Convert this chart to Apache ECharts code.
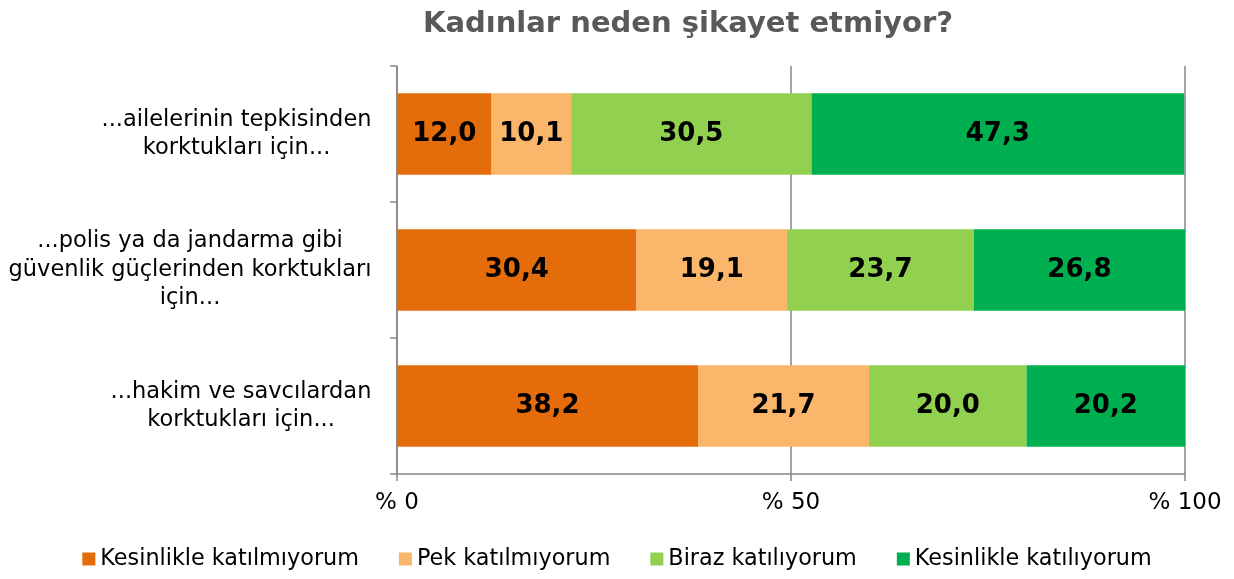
<!DOCTYPE html>
<html>
<head>
<meta charset="utf-8">
<script src="https://cdn.jsdelivr.net/npm/echarts@6/dist/echarts.min.js"></script>
<style>html,body{margin:0;padding:0;background:#fff;}#c{width:1234px;height:579px;}</style>
</head>
<body>
<div id="c"></div>
<script>
const titleText = 'Kadınlar neden şikayet etmiyor?';
const categories = [
  '...ailelerinin tepkisinden\nkorktukları için...',
  '...polis ya da jandarma gibi\ngüvenlik güçlerinden korktukları\niçin...',
  '...hakim ve savcılardan\nkorktukları için...'
];
const seriesNames = ['Kesinlikle katılmıyorum', 'Pek katılmıyorum', 'Biraz katılıyorum', 'Kesinlikle katılıyorum'];
const kesinlikleKatilmiyorum = [12.0, 30.4, 38.2];
const pekKatilmiyorum = [10.1, 19.1, 21.7];
const birazKatiliyorum = [30.5, 23.7, 20.0];
const kesinlikleKatiliyorum = [47.3, 26.8, 20.2];
const xTicks = [0, 50, 100];
const colors = ['#E46C0A', '#FAB66B', '#92D050', '#00B050'];

const values = [kesinlikleKatilmiyorum, pekKatilmiyorum, birazKatiliyorum, kesinlikleKatiliyorum];
const catFont = 'DejaVu Sans';
const catSize = 22.5;
const ctx = document.createElement('canvas').getContext('2d');
ctx.font = catSize + 'px "' + catFont + '"';
const rich = {};
categories.forEach((c, i) => {
  const w = Math.max(...c.split('\n').map(l => ctx.measureText(l).width));
  rich['c' + i] = {width: Math.ceil(w) + 1, align: 'center', fontFamily: catFont, fontSize: catSize, color: '#000', lineHeight: 28.5};
});

const chart = echarts.init(document.getElementById('c'));
chart.setOption({
  animation: false,
  title: {
    text: titleText, left: 683, textAlign: 'center', top: 5,
    textStyle: {fontFamily: 'DejaVu Sans', fontWeight: 'bold', fontSize: 29, color: '#595959'}
  },
  legend: {
    bottom: 4, left: 'center', itemWidth: 13, itemHeight: 13, itemGap: 40,
    icon: 'rect',
    textStyle: {fontFamily: 'DejaVu Sans', fontSize: 22.3, color: '#000'},
    data: seriesNames
  },
  grid: {left: 397, right: 49, top: 66, bottom: 105, containLabel: false, outerBoundsMode: 'none'},
  xAxis: {
    type: 'value', min: 0, max: 100, interval: 50,
    axisLine: {show: true, lineStyle: {color: '#868686', width: 1.5}},
    axisTick: {show: true, length: 7, lineStyle: {color: '#868686', width: 1.5}},
    splitLine: {show: true, lineStyle: {color: '#868686', width: 1.5}},
    axisLabel: {
      margin: 18, fontFamily: 'DejaVu Sans', fontSize: 23, color: '#000',
      formatter: v => xTicks.includes(v) ? '% ' + v : ''
    }
  },
  yAxis: {
    type: 'category', data: categories, inverse: true,
    axisLine: {show: true, lineStyle: {color: '#868686', width: 1.5}},
    axisTick: {show: true, length: 7, lineStyle: {color: '#868686', width: 1.5}},
    axisLabel: {
      margin: 25, align: 'right',
      formatter: v => { const i = categories.indexOf(v); return v.split('\n').map(l => '{c' + i + '|' + l + '}').join('\n'); },
      rich
    }
  },
  series: seriesNames.map((name, i) => ({
    name, type: 'bar', stack: 'total', data: values[i], barWidth: '60%',
    itemStyle: {color: colors[i]},
    label: {
      show: true, position: 'inside', color: '#000',
      fontFamily: 'DejaVu Sans', fontWeight: 'bold', fontSize: 26,
      formatter: p => p.value.toFixed(1).replace('.', ',')
    }
  }))
});
</script>
</body>
</html>
